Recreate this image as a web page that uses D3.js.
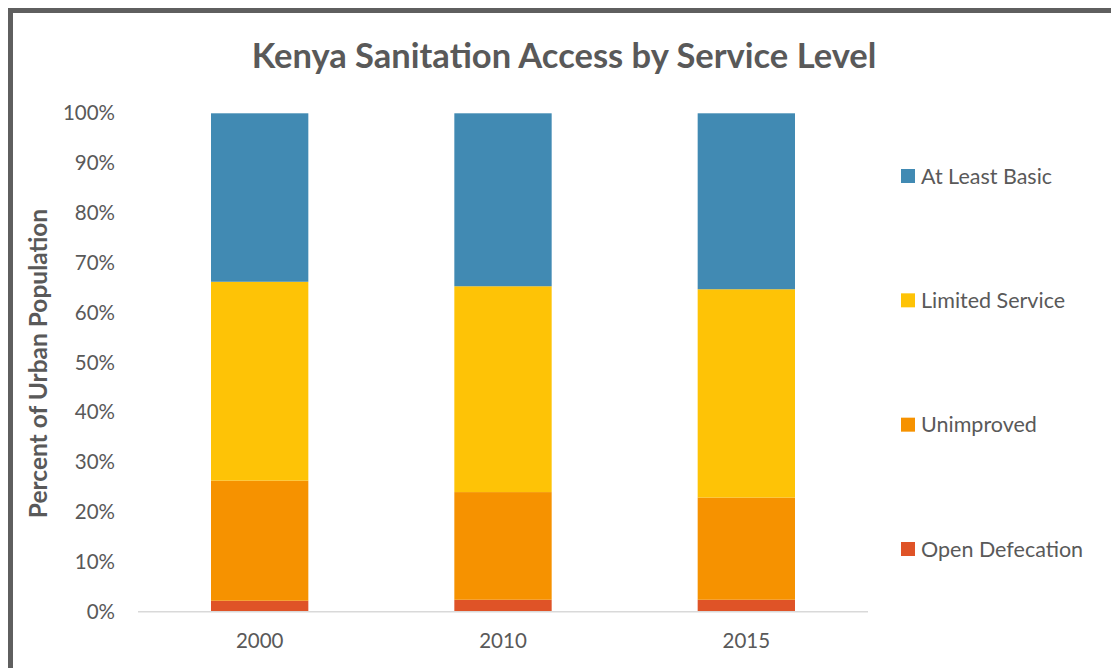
<!DOCTYPE html>
<html>
<head>
<meta charset="utf-8">
<script src="https://cdn.jsdelivr.net/npm/d3@7"></script>
<style>
  html, body { margin: 0; padding: 0; background: #fff; }
  svg { display: block; font-family: Lato, "Open Sans", sans-serif; }
</style>
</head>
<body>
<svg id="chart" width="1111" height="668"></svg>
<script>
// Share of urban population by sanitation service level (percent)
const years = ["2000", "2010", "2015"];
const serviceLevels = ["Open Defecation", "Unimproved", "Limited Service", "At Least Basic"];
const openDefecation = [2.2, 2.4, 2.4];
const unimproved = [24.1, 21.6, 20.5];
const limitedService = [39.9, 41.3, 41.8];
const atLeastBasic = [33.8, 34.7, 35.3];
const levelColors = ["#DF5327", "#F69200", "#FEC306", "#418AB3"];
const yTicks = [0, 10, 20, 30, 40, 50, 60, 70, 80, 90, 100];

const rows = years.map((y, i) => ({
  year: y,
  "Open Defecation": openDefecation[i],
  "Unimproved": unimproved[i],
  "Limited Service": limitedService[i],
  "At Least Basic": atLeastBasic[i]
}));

const svg = d3.select("#chart");
const textColor = "#595959";

// chart frame
svg.append("rect")
  .attr("x", 10.5).attr("y", 10.5)
  .attr("width", 1200).attr("height", 800)
  .attr("fill", "#fff")
  .attr("stroke", "#5f5f5f").attr("stroke-width", 5);

const plot = { left: 138, right: 868, top: 113.3, bottom: 611.7 };

const x = d3.scaleBand()
  .domain(years)
  .range([plot.left, plot.right])
  .paddingInner(0.6).paddingOuter(0.3);

const y = d3.scaleLinear()
  .domain([0, 100])
  .range([plot.bottom, plot.top]);

const color = d3.scaleOrdinal().domain(serviceLevels).range(levelColors);

const stacked = d3.stack().keys(serviceLevels)(rows);

// stacked bars
svg.append("g")
  .selectAll("g")
  .data(stacked)
  .join("g")
  .attr("fill", d => color(d.key))
  .selectAll("rect")
  .data(d => d)
  .join("rect")
  .attr("x", d => x(d.data.year))
  .attr("width", x.bandwidth())
  .attr("y", d => y(d[1]))
  .attr("height", d => y(d[0]) - y(d[1]));

// category axis
const xAxis = svg.append("g")
  .attr("transform", `translate(0,${plot.bottom})`)
  .call(d3.axisBottom(x).tickSize(0).tickPadding(22));
xAxis.select(".domain").attr("stroke", "#d9d9d9").attr("stroke-width", 1.5)
  .attr("d", `M${plot.left},0H${plot.right}`);
xAxis.selectAll("text")
  .attr("fill", textColor)
  .style("font-size", "20.5px")
  .style("font-family", "Lato, 'Open Sans', sans-serif");

// value axis
const yAxis = svg.append("g")
  .attr("transform", `translate(${plot.left},0)`)
  .call(d3.axisLeft(y).tickValues(yTicks).tickFormat(d => d + "%").tickSize(0).tickPadding(23));
yAxis.select(".domain").remove();
yAxis.selectAll("text")
  .attr("fill", textColor)
  .style("font-size", "20.5px")
  .style("font-family", "Lato, 'Open Sans', sans-serif");

// title
svg.append("text")
  .attr("x", 564).attr("y", 68)
  .attr("text-anchor", "middle")
  .attr("fill", textColor)
  .style("font-size", "34.5px")
  .style("font-weight", "bold")
  .text("Kenya Sanitation Access by Service Level");

// axis title
svg.append("text")
  .attr("transform", `translate(47,${(plot.top + plot.bottom) / 2 + 1}) rotate(-90)`)
  .attr("text-anchor", "middle")
  .attr("fill", textColor)
  .style("font-size", "24.5px")
  .style("font-weight", "bold")
  .text("Percent of Urban Population");

// legend, top to bottom in reverse stacking order
const legendItems = serviceLevels.slice().reverse();
const legendY = d3.scalePoint().domain(legendItems).range([176, 549]);
const legend = svg.append("g")
  .selectAll("g")
  .data(legendItems)
  .join("g")
  .attr("transform", d => `translate(901,${legendY(d)})`);
legend.append("rect")
  .attr("x", 0).attr("y", -7)
  .attr("width", 14).attr("height", 14)
  .attr("fill", d => color(d));
legend.append("text")
  .attr("x", 20).attr("y", 0)
  .attr("dy", "0.35em")
  .attr("fill", textColor)
  .style("font-size", "21.5px")
  .text(d => d);
</script>
</body>
</html>
